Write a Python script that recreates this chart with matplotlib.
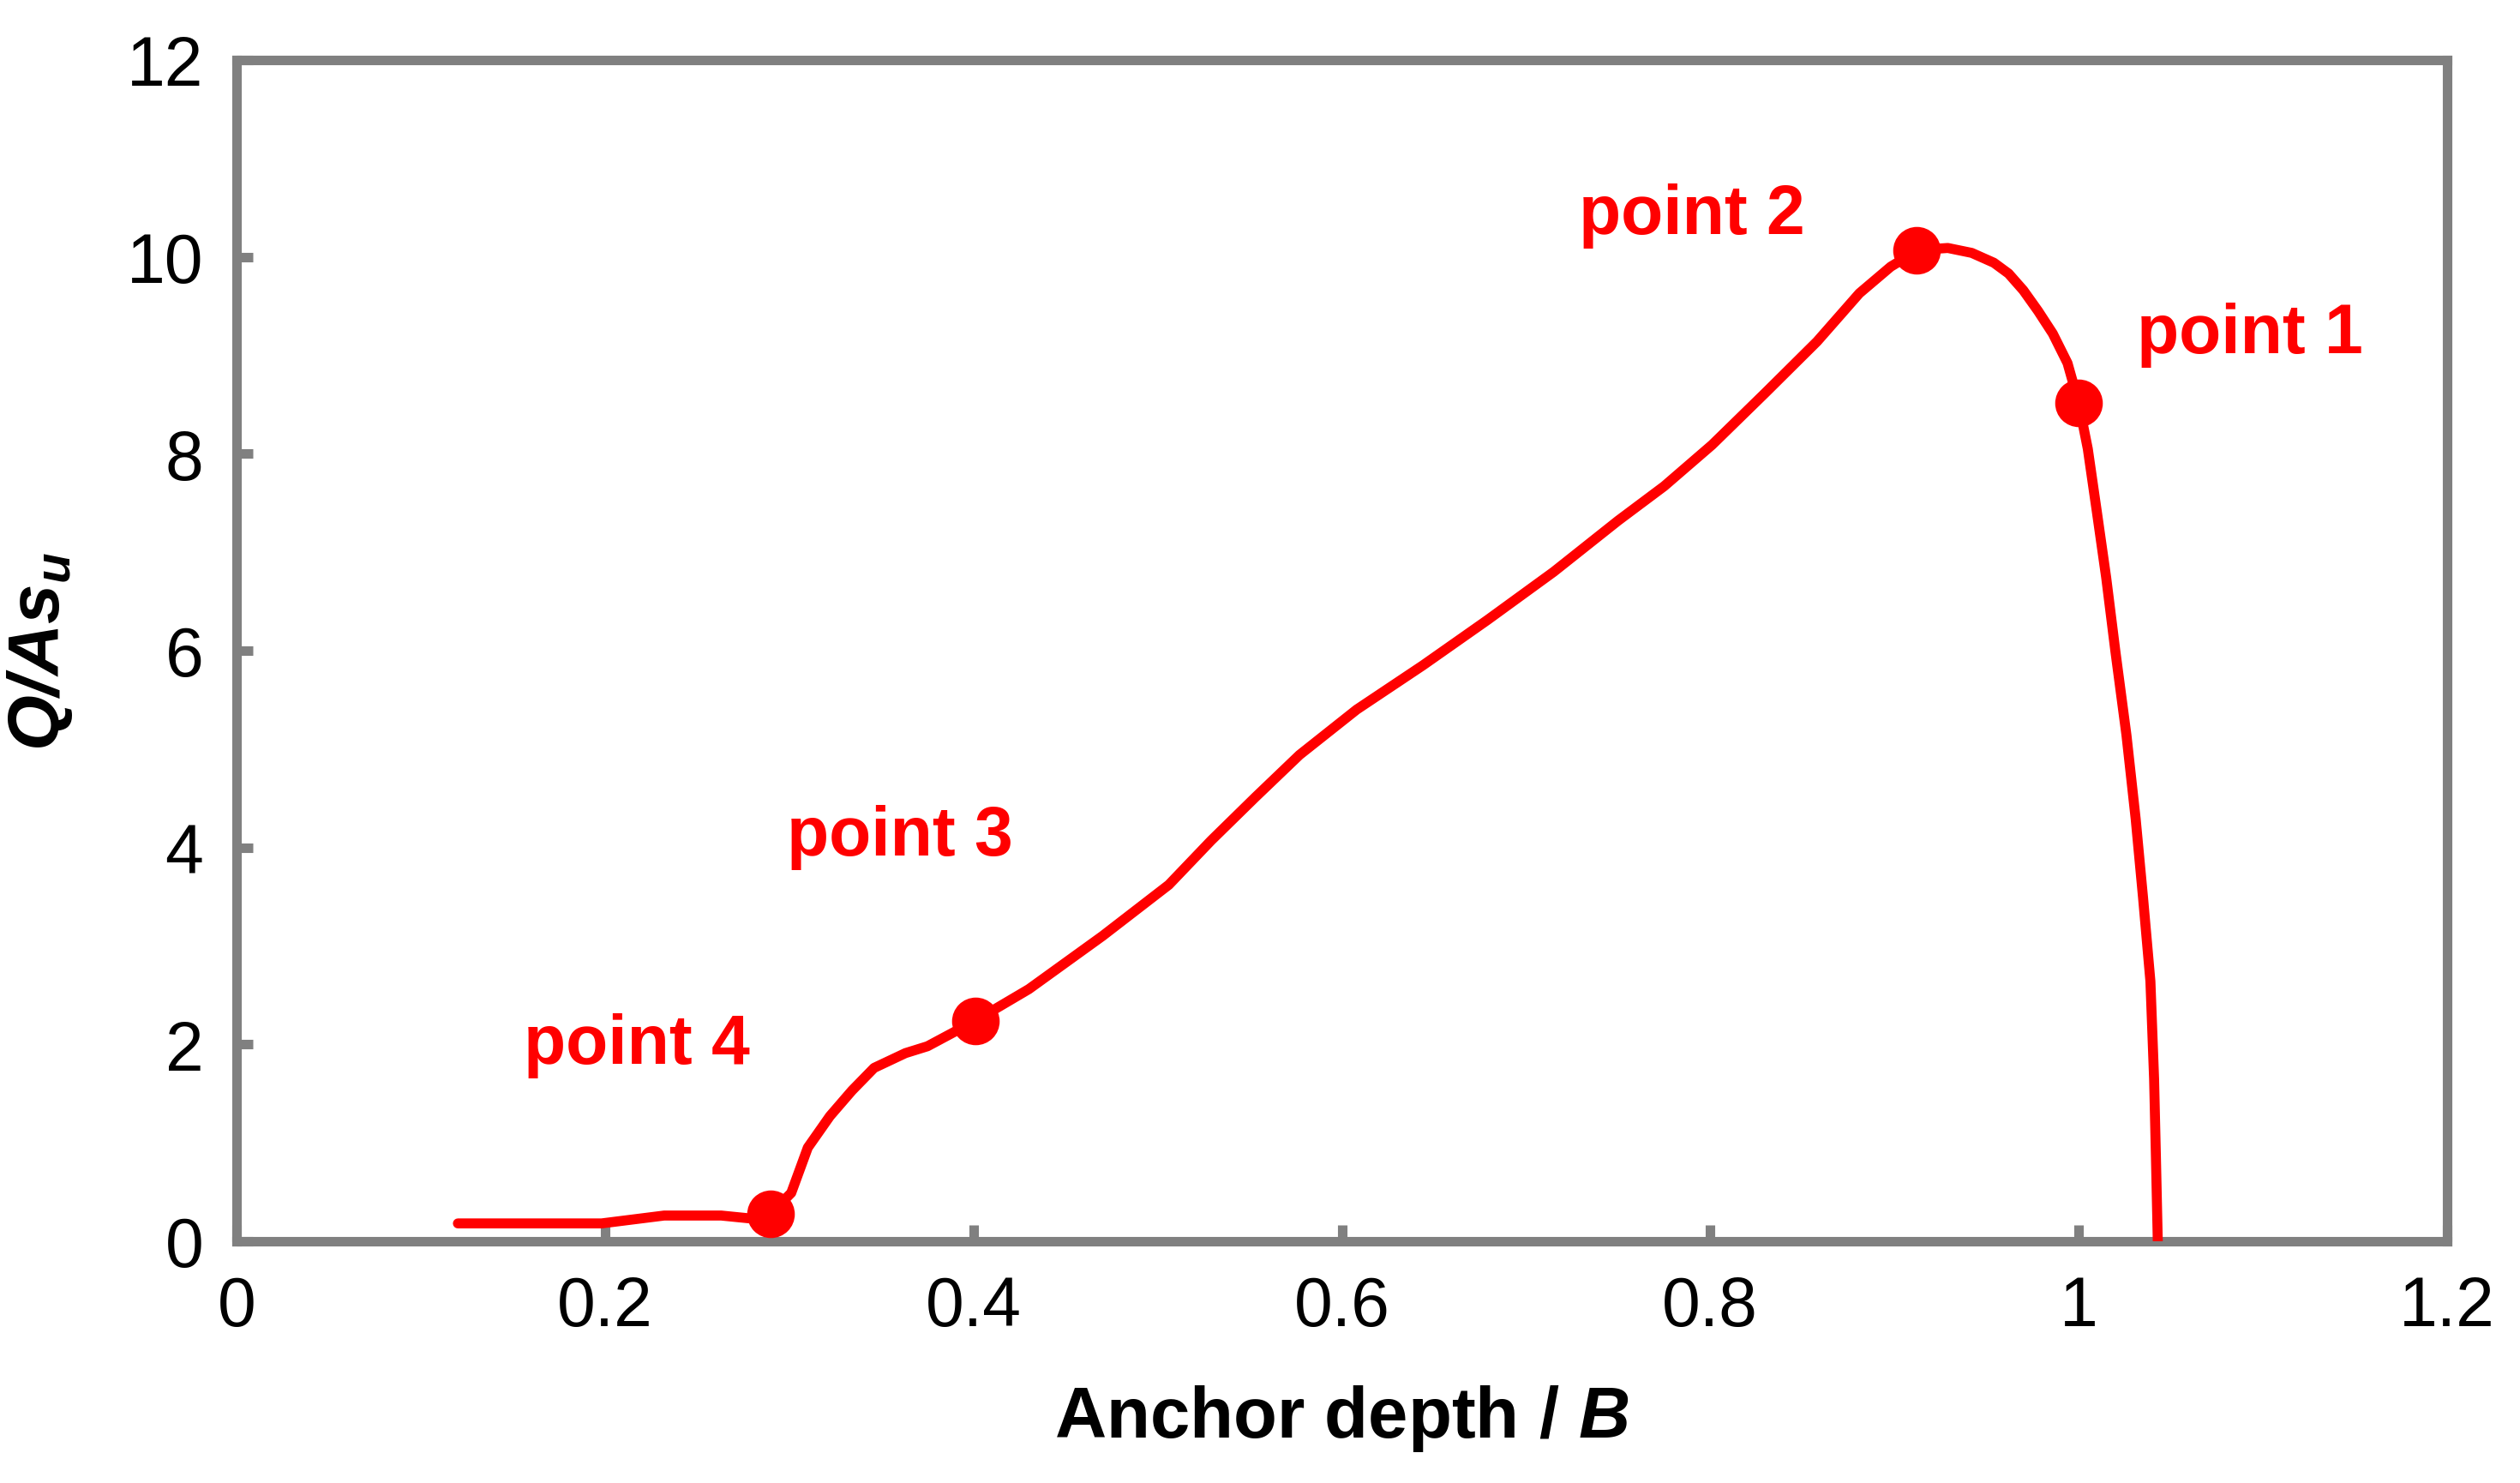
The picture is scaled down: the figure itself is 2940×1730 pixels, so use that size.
import matplotlib
matplotlib.use('Agg')
import matplotlib.pyplot as plt

plt.rcParams['font.family'] = ['Liberation Sans', 'DejaVu Sans']
plt.rcParams['mathtext.fontset'] = 'custom'
plt.rcParams['mathtext.rm'] = 'Liberation Sans'
plt.rcParams['mathtext.it'] = 'Liberation Sans:italic'
plt.rcParams['mathtext.bf'] = 'Liberation Sans:bold'
plt.rcParams['mathtext.bfit'] = 'Liberation Sans:italic:bold'

# curve
depth = [0.120, 0.198, 0.232, 0.263, 0.279, 0.290, 0.301, 0.310, 0.322, 0.334,
         0.346, 0.363, 0.375, 0.401, 0.430, 0.470, 0.506, 0.529, 0.553, 0.577,
         0.608, 0.644, 0.679, 0.715, 0.750, 0.775, 0.801, 0.830, 0.858, 0.881,
         0.898, 0.913, 0.929, 0.942, 0.954, 0.962, 0.970, 0.978, 0.986, 0.994,
         1.000, 1.005, 1.010, 1.015, 1.020, 1.026, 1.031, 1.035, 1.039, 1.041,
         1.042, 1.043]
load = [0.18, 0.18, 0.26, 0.26, 0.23, 0.28, 0.49, 0.95, 1.27, 1.53,
        1.76, 1.91, 1.98, 2.24, 2.56, 3.10, 3.62, 4.07, 4.51, 4.94,
        5.40, 5.85, 6.31, 6.80, 7.32, 7.67, 8.09, 8.62, 9.14, 9.63,
        9.90, 10.07, 10.09, 10.04, 9.94, 9.83, 9.66, 9.45, 9.22, 8.92,
        8.52, 8.05, 7.40, 6.74, 5.99, 5.14, 4.29, 3.49, 2.64, 1.65,
        0.85, 0.0]

# marked points and their labels
pt_names = ['point 1', 'point 2', 'point 3', 'point 4']
pt_x = [1.000, 0.912, 0.401, 0.290]
pt_y = [8.52, 10.07, 2.24, 0.28]
lab_x = [1.093, 0.790, 0.360, 0.217]
lab_y = [9.21, 10.42, 4.11, 1.99]

xticks = [0, 0.2, 0.4, 0.6, 0.8, 1.0, 1.2]
xtick_labels = ['0', '0.2', '0.4', '0.6', '0.8', '1', '1.2']
yticks = [0, 2, 4, 6, 8, 10, 12]

fig = plt.figure(figsize=(14.7, 8.655), dpi=200)
ax = fig.add_axes([0.094, 0.163, 0.877, 0.796])

ax.plot(depth, load, color='#ff0000', lw=4.2, solid_capstyle='round',
        solid_joinstyle='round', zorder=3)
ax.plot(pt_x, pt_y, 'o', color='#ff0000', ms=19, zorder=4)
for name, tx, ty in zip(pt_names, lab_x, lab_y):
    ax.text(tx, ty, name, color='#ff0000', fontsize=29, fontweight='bold',
            ha='center', va='center')

ax.set_xlim(0, 1.2)
ax.set_ylim(0, 12)
ax.set_xticks(xticks)
ax.set_xticklabels(xtick_labels)
ax.set_yticks(yticks)

for s in ax.spines.values():
    s.set_color('#808080')
    s.set_linewidth(4)
ax.tick_params(direction='in', length=7, width=4, color='#808080',
               labelsize=29, pad=14, top=False, right=False)

ax.set_xlabel(r'Anchor depth / $\mathbfit{B}$', fontsize=30,
              fontweight='bold', labelpad=18)
ax.set_ylabel(r'$\mathbfit{Q/As_u}$', fontsize=30, labelpad=22)

fig.savefig('out.png', dpi=200)
